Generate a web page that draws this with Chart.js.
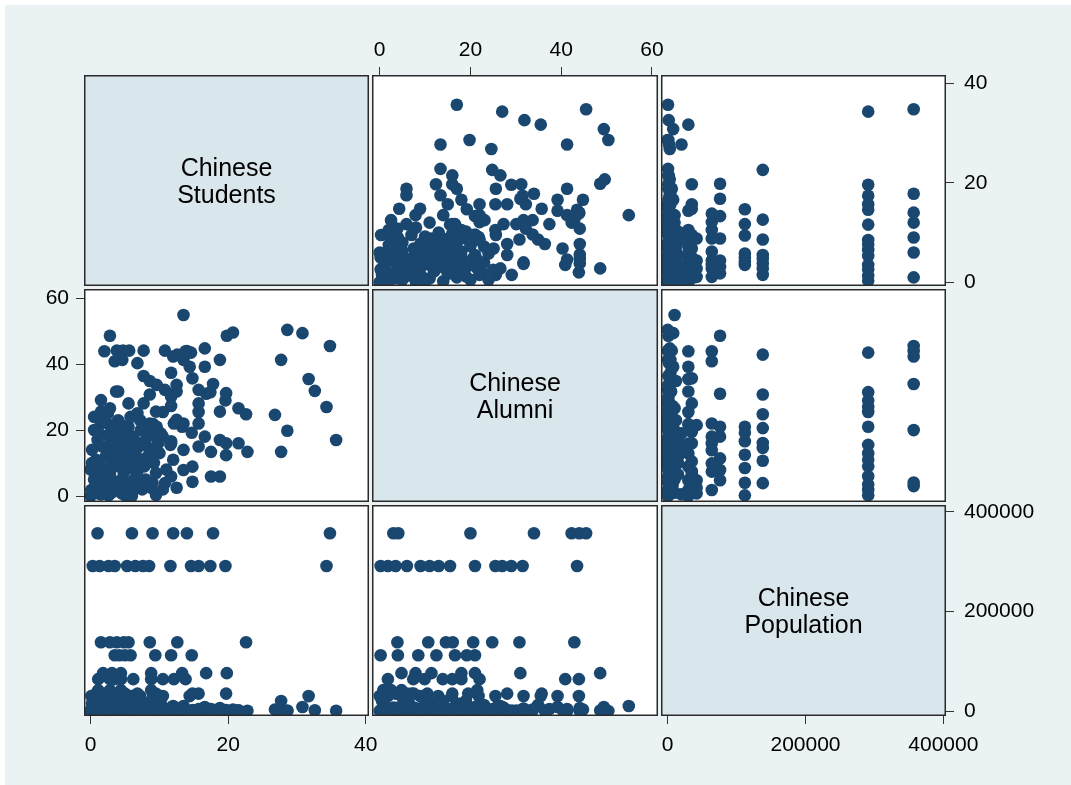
<!DOCTYPE html>
<html>
<head>
<meta charset="utf-8">
<script src="https://cdn.jsdelivr.net/npm/chart.js@4.4.0/dist/chart.umd.min.js"></script>
<style>
html, body { margin: 0; padding: 0; background: #ffffff; }
#page { position: absolute; left: 5px; top: 5px; width: 1066px; height: 780px; background: #eaf2f3; }
canvas { position: absolute; }
</style>
</head>
<body>
<div id="page"></div>
<script>
// one value per observation, same order in all three arrays
const students = [
    1, 6, 9, 12, 14, 17.8, 34.8,
    0.3, 1.3, 2.6, 3.5, 5.3, 6.5, 7.6, 8.5, 11.6, 14.6, 15.7, 17.4, 19.6, 34.3,
    1.5, 2.8, 3.8, 4.8, 5.5, 8.6, 12.6, 22.6,
    3.5, 4.2, 5, 5.8, 9.4, 11.7, 14.7,
    1.8, 3.1, 4.4, 8.8, 13.3, 16.8, 19.8,
    1.1, 2.8, 4.4, 6.2, 8.8, 10.5, 12.1, 13.8, 3.5,
    1.1, 2.8, 4.4, 8.8,
    0.1, 1.1, 3.1, 5.5, 7.2, 9.1, 10.5, 14.4, 31.7, 2, 4, 6,
    13.5, 2.8, 28.6, 30.8, 20.7, 3.8, 4.7, 5.6, 4.6, 7.7,
    6.8, 10.8, 13.5, 16.6, 16.6, 18.8, 27.7, 11.7, 7.7, 8.6,
    9.6, 14.8, 12.5, 12.5, 10.8, 15.7, 11.7, 11.7, 15.7, 32.6,
    19.7, 18.8, 21.5, 26.8, 28.6, 35.7, 27.7, 1.5, 3.7, 5.5,
    7.7, 6.8, 9.5, 1.5, 1.5, 2.8, 8.6, 9.6, 12.5, 13.5,
    15.7, 16.6, 18.8, 19.7, 21.5, 17.5, 19.7, 22.8, 11.7, 13.5,
    15.7, 10.8, 11.7, 13.5, 14.8, 14.8, 17.5, 18.8, 9.5,
    0, 0.3, 0.5, 0, 0.8, 0.2, 1, 0.5, 1.5, 1.8,
    2, 1.5, 2.2, 1.7, 2.5, 2, 3, 3.2, 2.8, 3.5,
    3, 3.8, 3.3, 4, 4.5, 4.2, 4.8, 4.5, 5, 4.6,
    5.2, 5.5, 6, 6.3, 6.8, 6.5, 7, 6.2, 7.3, 7.5,
    8, 7.8, 8.3, 8, 8.8, 9, 9.5, 9.2, 10, 9.8,
    10.5, 11, 12, 12.5, 10.2,
    0.5, 1.2, 2.5, 3.6, 5.8, 7.2, 0.8, 2.2, 4, 6.5,
    8.5, 1.5, 3, 5, 7, 9.5, 0.2, 2.8, 4.5, 6
];

const alumni = [
    3, 4.1, 20, 42.3, 44, 34, 45.5,
    1.8, 6, 0.2, 9, 3.5, 13, 11, 21, 15.5, 43.5, 25.5, 31.5, 29, 27,
    3.9, 14.6, 10.7, 20.6, 16.1, 30.8, 42.9, 24.8,
    4, 12.5, 0.2, 8.5, 21, 16.6, 19.2,
    7.9, 4.8, 18, 11.4, 21, 31, 48.6,
    1.8, 7.4, 16, 9.9, 13.9, 18, 22, 43.9, 40.9,
    0.8, 21.5, 4.8, 2.5,
    1.8, 4.8, 8.9, 12.9, 15.9, 21.8, 25.5, 39.2, 35.5, 43.9, 31.7, 0,
    54.9, 48.6, 50.4, 49.4, 49.6, 44.1, 44.1, 44.1, 41.3, 44.1,
    40.3, 44.1, 41.3, 44.8, 39.2, 41.3, 41.3, 37.4, 36.4, 34.9,
    33.7, 35.7, 33.7, 31.7, 32.2, 32.2, 30.1, 27.3, 28.1, 31.9,
    31.2, 25.6, 26.6, 24.6, 19.8, 17, 13.4, 29.1, 31.7, 28.1,
    28.1, 25.1, 25.6, 25.6, 22, 26.6, 22, 21, 23.1, 22,
    22, 18, 17, 16, 16, 13.4, 12.4, 13.4, 16, 14,
    15, 3.9, 5.9, 7.9, 8.9, 4.3, 5.9, 5.9, 0.3,
    0, 2, 5, 8, 11, 14, 17, 20, 0.5, 3,
    6, 9, 12, 15, 18.5, 22.5, 1, 4, 6.5, 11,
    14, 16.5, 19.5, 23, 0.8, 3.2, 7, 9.5, 13.5, 15,
    18, 21, 1.5, 5, 7.5, 11.5, 15, 18, 20, 2,
    5, 9, 12, 17, 19, 4, 7, 10, 13, 16,
    2, 8, 11, 2.5, 19,
    24, 19, 25, 21, 24, 23, 3.5, 1.5, 12, 2.5,
    14.5, 6.5, 9, 10.5, 4, 18, 10, 16, 21.5, 14
];

const population = [
    357000, 357000, 357000, 357000, 357000, 357000, 357000,
    291000, 291000, 291000, 291000, 291000, 291000, 291000, 291000, 291000, 291000, 291000, 291000, 291000, 291000,
    138000, 138000, 138000, 138000, 138000, 138000, 138000, 138000,
    112000, 112000, 112000, 112000, 112000, 112000, 112000,
    76000, 76000, 76000, 76000, 76000, 76000, 76000,
    64000, 64000, 64000, 64000, 64000, 64000, 64000, 64000, 64000,
    42000, 42000, 42000, 42000,
    30000, 30000, 30000, 30000, 30000, 30000, 30000, 30000, 30000, 30000, 30000, 30000,
    10000, 1000, 0, 8000, 3000, 500, 2000, 1000, 4000, 6000,
    2000, 1000, 500, 3000, 8000, 1500, 2000, 4000, 1000, 12000,
    3000, 35000, 1000, 5000, 2000, 500, 1000, 7000, 35000, 1500,
    2000, 6000, 1000, 3000, 1000, 500, 20000, 1000, 3000, 2000,
    500, 4000, 1000, 6000, 2000, 10000, 3000, 1000, 2000, 500,
    4000, 1000, 2000, 35000, 1500, 3000, 1000, 500, 5000, 2000,
    1000, 3000, 1000, 6000, 2000, 500, 4000, 1000, 2000,
    0, 2000, 5000, 1000, 10000, 3000, 15000, 500, 20000, 7000,
    35000, 1500, 0, 2000, 5000, 1000, 10000, 3000, 15000, 500,
    20000, 7000, 35000, 1500, 1000, 4000, 5000, 0, 10000, 3000,
    15000, 500, 2000, 7000, 35000, 1500, 0, 12000, 5000, 1000,
    10000, 3000, 15000, 500, 20000, 7000, 35000, 1500, 0, 2000,
    5000, 1000, 10000, 3000, 15000,
    500, 3000, 1000, 8000, 2000, 12000, 35000, 0, 5000, 1500,
    4000, 10000, 2000, 35000, 1000, 3000, 15000, 500, 6000, 2500
];

const varLabels = [['Chinese', 'Students'], ['Chinese', 'Alumni'], ['Chinese', 'Population']];
const studentTicks = [0, 20, 40];
const alumniTicks = [0, 20, 40, 60];
const populationTicks = [0, 200000, 400000];

// axis ranges as drawn (x = across, y = up)
const vars = [
    { values: students, ticks: studentTicks, x: [-0.97, 40.48], y: [-0.74, 41.67] },
    { values: alumni, ticks: alumniTicks, x: [-1.7, 61.34], y: [-1.82, 62.8] },
    { values: population, ticks: populationTicks, x: [-9700, 403900], y: [-10000, 413600] }
];

// panel rectangles
const cols = [{ x: 84, w: 285 }, { x: 372, w: 286 }, { x: 661, w: 285 }];
const rows = [{ y: 75, h: 211 }, { y: 289, h: 213 }, { y: 505, h: 211 }];

const FONT = "'Liberation Sans', Arial, Helvetica, sans-serif";
const MARKER = '#1a476f';
const MARGIN = 20;

const panelPlugin = {
    id: 'panel',
    beforeDraw(chart, args, opts) {
        const a = chart.chartArea;
        const ctx = chart.ctx;
        ctx.save();
        ctx.fillStyle = opts.diag ? '#d9e6eb' : '#ffffff';
        ctx.fillRect(a.left, a.top, a.right - a.left, a.bottom - a.top);
        ctx.restore();
    },
    afterDraw(chart, args, opts) {
        const a = chart.chartArea;
        const ctx = chart.ctx;
        ctx.save();
        if (opts.label) {
            const cx = (a.left + a.right) / 2;
            const cy = (a.top + a.bottom) / 2;
            ctx.fillStyle = '#000000';
            ctx.font = '25px ' + FONT;
            ctx.textAlign = 'center';
            ctx.textBaseline = 'alphabetic';
            ctx.fillText(opts.label[0], cx, cy - 5);
            ctx.fillText(opts.label[1], cx, cy + 22);
        }
        ctx.strokeStyle = '#2a2a2a';
        ctx.lineWidth = 1.5;
        ctx.strokeRect(a.left + 0.75, a.top + 0.75, a.right - a.left - 1.5, a.bottom - a.top - 1.5);
        ctx.restore();
    }
};

function axisScale(range, ticks, show, position, size, padding) {
    return {
        type: 'linear',
        display: show,
        position: position,
        min: range[0],
        max: range[1],
        afterBuildTicks: s => { s.ticks = ticks.map(v => ({ value: v })); },
        afterFit: s => {
            if (show) {
                if (position === 'top' || position === 'bottom') s.height = size;
                else s.width = size;
            }
            s.paddingLeft = 0;
            s.paddingRight = 0;
            s.paddingTop = 0;
            s.paddingBottom = 0;
        },
        grid: { display: true, drawOnChartArea: false, drawTicks: true, tickLength: 8, tickColor: '#333333', tickWidth: 1 },
        border: { display: false },
        ticks: {
            color: '#000000',
            font: { family: FONT, size: 21 },
            padding: padding,
            maxRotation: 0,
            autoSkip: false,
            callback: v => String(v)
        }
    };
}

function makePanel(r, c, axes) {
    const axisSize = { top: 50, right: 120, bottom: 55, left: 70 };
    const ext = {};
    const pad = {};
    for (const side of ['top', 'right', 'bottom', 'left']) {
        ext[side] = axes[side] ? axisSize[side] : MARGIN;
        pad[side] = axes[side] ? 0 : MARGIN;
    }
    const cell = { x: cols[c].x, y: rows[r].y, w: cols[c].w, h: rows[r].h };
    const cv = document.createElement('canvas');
    cv.width = cell.w + ext.left + ext.right;
    cv.height = cell.h + ext.top + ext.bottom;
    cv.style.left = (cell.x - ext.left) + 'px';
    cv.style.top = (cell.y - ext.top) + 'px';
    document.body.appendChild(cv);

    const xv = vars[c];
    const yv = vars[r];
    const diag = r === c;
    const points = diag ? [] : xv.values.map((v, i) => ({ x: v, y: yv.values[i] }));

    const xPos = axes.top ? 'top' : 'bottom';
    const yPos = axes.left ? 'left' : 'right';

    return new Chart(cv.getContext('2d'), {
        type: 'scatter',
        data: {
            datasets: [{
                data: points,
                pointRadius: 6.3,
                pointHoverRadius: 6.3,
                pointBackgroundColor: MARKER,
                pointBorderWidth: 0,
                clip: 0
            }]
        },
        options: {
            responsive: false,
            animation: false,
            devicePixelRatio: 1,
            layout: { padding: pad },
            plugins: {
                legend: { display: false },
                tooltip: { enabled: false },
                panel: { diag: diag, label: diag ? varLabels[r] : null }
            },
            scales: {
                x: axisScale(xv.x, xv.ticks, !!(axes.top || axes.bottom), xPos,
                    axes.top ? ext.top : ext.bottom, axes.top ? 4 : 9),
                y: axisScale(yv.y, yv.ticks, !!(axes.left || axes.right), yPos,
                    axes.left ? ext.left : ext.right, axes.left ? 7 : 10)
            }
        },
        plugins: [panelPlugin]
    });
}

window.addEventListener('load', function() {
    makePanel(0, 0, {});
    makePanel(0, 1, { top: true });
    makePanel(0, 2, { right: true });
    makePanel(1, 0, { left: true });
    makePanel(1, 1, {});
    makePanel(1, 2, {});
    makePanel(2, 0, { bottom: true });
    makePanel(2, 1, {});
    makePanel(2, 2, { right: true, bottom: true });
});
</script>
</body>
</html>
